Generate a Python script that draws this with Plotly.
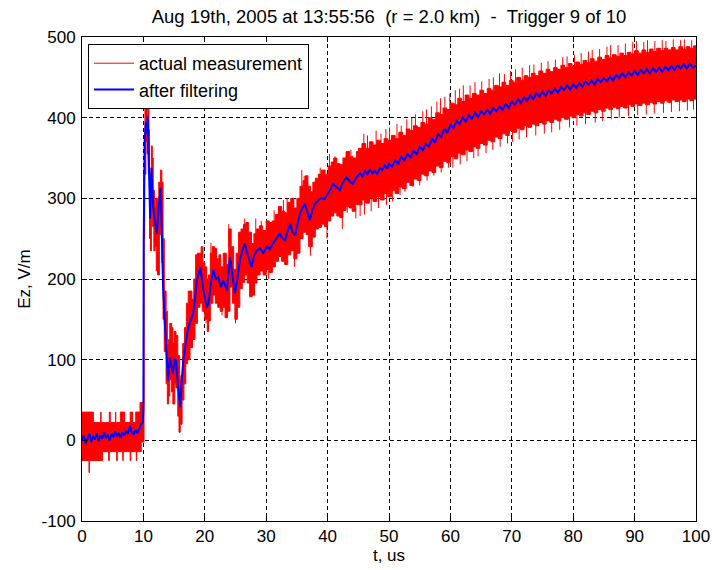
import plotly.graph_objects as go

# ---------------- data ----------------
title_text = "Aug 19th, 2005 at 13:55:56  (r = 2.0 km)  -  Trigger 9 of 10"
x_ticks = [0, 10, 20, 30, 40, 50, 60, 70, 80, 90, 100]
y_ticks = [-100, 0, 100, 200, 300, 400, 500]

# filtered signal (blue)
blue_t = [0, 0.3, 0.6, 0.9, 1.2, 1.5, 1.8, 2.1, 2.4, 2.7, 3.0, 3.3, 3.6, 3.9, 4.2, 4.5, 4.8, 5.1,
          5.4, 5.7, 6.0, 6.3, 6.6, 6.9, 7.2, 7.5, 7.8, 8.1, 8.4, 8.7, 9.0, 9.3, 9.6, 9.9,
          10.0, 10.05, 10.2, 10.4, 10.6, 10.7, 10.9, 11.1, 11.3, 11.5, 11.6, 11.9, 12.2, 12.5,
          12.8, 13.0, 13.2, 13.5, 13.8, 14.0, 14.3, 14.6, 14.8, 15.1, 15.3, 15.6, 16.0, 16.2,
          16.5, 16.8, 17.1, 17.5, 18.1, 18.4, 18.7, 19.0, 19.3, 19.6, 19.9, 20.3, 20.6, 21.0,
          21.4, 21.8, 22.2, 22.6, 23.0, 23.3, 23.6, 24.1, 24.5, 24.9, 25.3, 25.7, 26.1, 26.5,
          27.0, 27.6, 28.0, 28.4, 29.0, 29.5, 30.1, 30.6, 31.1, 31.6, 32.2, 32.7, 33.1, 33.5,
          33.9, 34.3, 34.7, 35.1, 35.5, 35.9, 36.3, 36.7, 37.1, 37.5, 37.9, 38.4, 39.0, 39.5,
          40.1, 40.5, 40.9, 41.5, 42.0, 42.5, 43.1, 43.6, 44.1, 44.7, 45.3, 45.7, 46.1, 46.5,
          46.9, 47.3, 47.7, 48.1, 48.5, 48.9, 49.3, 49.7,
          50.0, 50.5, 51.0, 51.5, 52.0, 52.5, 53.0, 53.5, 54.0, 54.5, 55.0, 55.5, 56.0, 56.5,
          57.0, 57.5, 58.0, 58.5, 59.0, 59.5, 60.0, 60.5, 61.0, 61.5, 62.0, 62.5, 63.0, 63.5,
          64.0, 64.5, 65.0, 65.5, 66.0, 66.5, 67.0, 67.5, 68.0, 68.5, 69.0, 69.5, 70.0, 70.5,
          71.0, 71.5, 72.0, 72.5, 73.0, 73.5, 74.0, 74.5, 75.0, 75.5, 76.0, 76.5, 77.0, 77.5,
          78.0, 78.5, 79.0, 79.5, 80.0, 80.5, 81.0, 81.5, 82.0, 82.5, 83.0, 83.5, 84.0, 84.5,
          85.0, 85.5, 86.0, 86.5, 87.0, 87.5, 88.0, 88.5, 89.0, 89.5, 90.0, 90.5, 91.0, 91.5,
          92.0, 92.5, 93.0, 93.5, 94.0, 94.5, 95.0, 95.5, 96.0, 96.5, 97.0, 97.5, 98.0, 98.5,
          99.0, 99.5, 100.0]
blue_v = [0, 6, -4, 3, 8, -2, 5, 1, 9, -1, 6, 2, 10, 3, 7, 0, 8, 4,
          11, 5, 9, 3, 10, 6, 12, 8, 18, 10, 7, 13, 9, 14, 20, 22,
          40, 250, 370, 395, 380, 402, 350, 275, 338, 300, 289, 270, 256, 290,
          313, 260, 190, 145, 100, 74, 103, 90, 83, 100, 99, 70, 41, 70,
          99, 115, 132, 145, 157, 175, 198, 207, 215, 194, 180, 165, 170, 195,
          211, 200, 202, 190, 198, 192, 186, 227, 205, 182, 200, 223, 235, 244,
          230, 215, 228, 235, 238, 232, 240, 237, 244, 250, 256, 250, 248, 260,
          268, 258, 254, 268, 281, 288, 293, 283, 273, 285, 293, 297, 301, 299,
          306, 312, 318, 313, 310, 320, 326, 321, 318, 326, 331, 327, 334, 330,
          336, 331, 334, 330, 338, 335, 341, 337,
          343, 339, 347, 343, 352, 347, 355, 351, 359, 355, 364, 360, 368, 364,
          374, 369, 380, 376, 386, 381, 391, 387, 396, 392, 400, 395, 403, 399,
          406, 401, 408, 404, 410, 405, 412, 408, 414, 410, 417, 412, 420, 416,
          423, 418, 425, 421, 428, 423, 430, 426, 432, 427, 434, 430, 436, 431,
          438, 434, 440, 435, 441, 437, 443, 438, 445, 441, 446, 441, 448, 444,
          449, 445, 451, 446, 453, 449, 455, 450, 456, 452, 458, 453, 459, 455,
          460, 455, 461, 457, 462, 457, 463, 459, 464, 459, 465, 461, 466, 461,
          467, 462, 465]

# raw measurement (red): upper and lower edge of the dense noisy band (held levels)
red_up_t = [0, 1.8, 1.85, 3.0, 3.05, 3.1, 4.4, 4.45, 4.55, 4.6, 5.4, 5.45, 5.5, 6.2, 6.25,
            6.9, 6.95, 7.8, 7.85, 8.2, 8.25, 8.7, 8.75, 9.4, 9.45, 9.95,
            10.05, 10.25, 10.5, 10.7, 10.9, 11.0, 11.15, 11.3, 11.45, 11.6, 11.8, 12.0, 12.3,
            12.5, 12.8, 13.0, 13.2, 13.4, 13.7, 13.9, 14.1, 14.3, 14.6, 14.8, 15.0, 15.3, 15.6,
            15.9, 16.1, 16.4, 16.7, 17.0, 17.3, 17.6, 17.9, 18.2, 18.5, 18.8, 19.1, 19.4, 19.7,
            20.0, 20.3, 20.6, 20.9, 21.2, 21.6, 21.9, 22.3, 22.6, 23.0, 23.5, 23.9, 24.3, 24.7,
            25.1, 25.5, 25.9, 26.3, 26.7, 27.1, 27.6, 28.0, 28.4, 28.9, 29.4, 30.0, 30.5, 31.0,
            31.5, 32.0, 32.5, 33.0, 33.5, 34.0, 34.5, 35.0, 35.5, 36.0, 36.4, 36.8, 37.2, 37.6,
            38.0, 38.5, 39.0, 39.6, 40.1, 40.6, 41.0, 41.5, 42.0, 42.5, 43.0, 43.6, 44.1, 44.7,
            45.0, 45.6, 46.2, 46.8, 47.4, 48.0, 48.6, 49.2, 49.8, 50.4, 51.0, 51.6, 52.2, 52.8,
            53.4, 54.0, 54.6, 55.2, 55.8, 56.4, 57.0, 57.6, 58.2, 58.8, 59.4, 60.0, 60.6, 61.2,
            61.8, 62.4, 63.0, 63.6, 64.2, 64.8, 65.4, 66.0, 66.6, 67.2, 67.8, 68.4, 69.0, 69.6,
            70.2, 70.8, 71.4, 72.0, 72.6, 73.2, 73.8, 74.4, 75.0, 75.6, 76.2, 76.8, 77.4, 78.0,
            78.6, 79.2, 79.8, 80.4, 81.0, 81.6, 82.2, 82.8, 83.4, 84.0, 84.6, 85.2, 85.8, 86.4,
            87.0, 87.6, 88.2, 88.8, 89.4, 90.0, 90.6, 91.2, 91.8, 92.4, 93.0, 93.6, 94.2, 94.8,
            95.4, 96.0, 96.6, 97.2, 97.8, 98.4, 99.0, 99.6, 100.0]
red_up_v = [35, 35, 22, 22, 35, 22, 22, 35, 35, 22, 22, 35, 22, 22, 35,
            35, 22, 22, 35, 35, 22, 22, 35, 35, 47, 47,
            330, 412, 405, 415, 385, 330, 300, 365, 350, 310, 290, 300, 285,
            320, 335, 320, 250, 185, 160, 120, 125, 145, 140, 120, 135, 130, 105,
            75, 80, 120, 140, 170, 185, 185, 175, 200, 230, 232, 232, 240, 220,
            215, 200, 205, 232, 240, 238, 225, 230, 215, 232, 218, 262, 240, 212,
            232, 258, 262, 268, 270, 258, 244, 256, 262, 266, 260, 272, 270, 272,
            280, 290, 284, 282, 295, 300, 288, 300, 315, 322, 328, 315, 308, 320,
            325, 330, 335, 330, 340, 345, 350, 343, 342, 350, 358, 352, 350, 358,
            362, 368, 362, 370, 366, 372, 368, 374, 372, 378, 374, 382, 378, 386,
            384, 390, 388, 394, 392, 400, 398, 406, 404, 412, 410, 418, 416, 424,
            420, 428, 424, 430, 428, 434, 430, 436, 434, 440, 438, 444, 440, 446,
            444, 450, 446, 452, 450, 455, 452, 458, 455, 460, 457, 462, 460, 465,
            462, 467, 464, 469, 466, 471, 468, 473, 470, 475, 472, 477, 474, 478,
            476, 480, 477, 481, 479, 483, 480, 484, 481, 485, 482, 486, 483, 486,
            484, 487, 484, 488, 485, 488, 486, 489, 489]

red_lo_t = [0, 1.1, 1.15, 1.2, 3.3, 3.35, 4.3, 4.35, 4.45, 5.6, 5.65, 5.75, 6.6, 6.65, 6.7,
            7.8, 7.85, 7.95, 8.8, 8.85, 8.9, 9.6, 9.65, 10.0,
            10.1, 10.2, 10.4, 10.6, 10.8, 11.0, 11.15, 11.3, 11.5, 11.7, 11.9, 12.1, 12.3, 12.6,
            12.8, 13.0, 13.2, 13.4, 13.7, 13.9, 14.1, 14.3, 14.6, 14.8, 15.1, 15.3, 15.6, 15.8,
            16.0, 16.3, 16.6, 16.9, 17.2, 17.6, 18.0, 18.4, 18.8, 19.2, 19.6, 20.0, 20.4, 20.6,
            20.9, 21.3, 21.7, 22.1, 22.5, 22.9, 23.3, 23.7, 24.1, 24.5, 24.9, 25.3, 25.7, 26.1,
            26.5, 26.9, 27.3, 27.7, 28.1, 28.5, 29.0, 29.5, 30.0, 30.5, 31.0, 31.5, 32.0, 32.5,
            33.0, 33.5, 34.0, 34.5, 35.0, 35.5, 36.0, 36.5, 37.0, 37.5, 38.0, 38.5, 39.0, 39.5,
            40.0, 40.5, 41.0, 41.5, 42.0, 42.5, 43.0, 43.5, 44.0, 44.5,
            45.0, 45.6, 46.2, 46.8, 47.4, 48.0, 48.6, 49.2, 49.8, 50.4, 51.0, 51.6, 52.2, 52.8,
            53.4, 54.0, 54.6, 55.2, 55.8, 56.4, 57.0, 57.6, 58.2, 58.8, 59.4, 60.0, 60.6, 61.2,
            61.8, 62.4, 63.0, 63.6, 64.2, 64.8, 65.4, 66.0, 66.6, 67.2, 67.8, 68.4, 69.0, 69.6,
            70.2, 70.8, 71.4, 72.0, 72.6, 73.2, 73.8, 74.4, 75.0, 75.6, 76.2, 76.8, 77.4, 78.0,
            78.6, 79.2, 79.8, 80.4, 81.0, 81.6, 82.2, 82.8, 83.4, 84.0, 84.6, 85.2, 85.8, 86.4,
            87.0, 87.6, 88.2, 88.8, 89.4, 90.0, 90.6, 91.2, 91.8, 92.4, 93.0, 93.6, 94.2, 94.8,
            95.4, 96.0, 96.6, 97.2, 97.8, 98.4, 99.0, 99.6, 100.0]
red_lo_v = [-25, -25, -40, -25, -25, -14, -14, -25, -14, -14, -25, -14, -14, -25, -14,
            -14, -25, -14, -14, -25, -14, -14, -2, -2,
            250, 330, 370, 355, 330, 250, 235, 300, 265, 235, 240, 210, 205, 255,
            285, 220, 150, 110, 70, 45, 55, 75, 60, 45, 70, 65, 30, 10,
            20, 50, 70, 95, 100, 115, 125, 145, 165, 170, 160, 150, 135, 148,
            170, 180, 170, 165, 160, 165, 152, 160, 190, 170, 150, 165, 188, 196,
            205, 195, 178, 180, 195, 205, 210, 205, 212, 208, 215, 222, 228, 222,
            218, 230, 235, 225, 232, 250, 258, 255, 240, 252, 262, 264, 268, 265,
            272, 278, 282, 278, 276, 285, 290, 288, 284, 292,
            292, 298, 294, 300, 296, 302, 298, 306, 302, 310, 306, 314, 312, 320,
            316, 324, 322, 330, 328, 334, 332, 340, 338, 346, 344, 352, 349, 356,
            354, 360, 358, 364, 362, 368, 366, 372, 370, 376, 374, 380, 378, 384,
            382, 387, 385, 390, 388, 392, 390, 394, 392, 396, 394, 398, 396, 400,
            398, 402, 400, 404, 402, 406, 404, 408, 406, 410, 408, 412, 410, 413,
            411, 414, 412, 416, 414, 417, 415, 418, 416, 419, 417, 420, 418, 421,
            419, 422, 420, 422, 420, 423, 421, 423, 423]

# isolated noise spikes of the raw measurement (time, min, max)
spike_t = [20.2, 21.0, 22.8, 23.9, 25.0, 26.5, 27.6, 28.3, 29.2, 30.4, 31.3, 32.8, 33.4,
           34.6, 35.8, 36.2, 36.9, 37.2, 38.8, 39.9, 40.3, 41.2, 42.4, 43.2, 43.8, 44.6,
           45.9, 46.5, 47.9, 48.7, 49.5, 50.1, 51.3, 52.0, 52.9, 53.7, 54.3, 55.5, 56.1, 56.9,
           57.8, 58.4, 59.1, 59.9, 60.8, 61.5, 62.1, 63.2, 64.0, 65.1, 66.3, 67.0, 68.0, 68.8,
           69.8, 70.6, 71.7, 72.9, 73.6, 74.8, 75.9, 77.1, 78.3, 79.0, 80.2, 81.3, 82.5, 83.1,
           84.3, 85.5, 86.1, 87.3, 88.5, 89.7, 90.3, 91.5, 92.1, 93.3, 94.5, 95.1, 96.3, 97.5,
           98.1, 99.3,
           45.3, 46.0, 47.1, 48.3, 49.6, 50.6, 51.8, 52.6, 53.9, 55.0, 56.2, 57.3, 58.5, 59.7,
           60.4, 61.6, 62.7, 63.8, 64.5, 65.8, 66.9, 68.1, 69.3, 70.1, 71.2, 72.4, 73.9, 75.3,
           76.5, 77.8, 79.4, 80.6, 82.0, 83.6, 84.8, 86.2, 87.5, 89.0, 90.5, 91.9, 93.2, 94.7,
           96.0, 97.3, 98.6, 99.6]
spike_lo = [145, 200, 155, 240, 145, 255, 194, 250, 250, 200, 260, 270, 275,
            215, 310, 305, 240, 229, 315, 250, 335, 335, 262, 282, 340, 275,
            350, 350, 355, 355, 360, 360, 365, 365, 370, 375, 380, 385, 390, 390,
            395, 395, 400, 405, 410, 410, 415, 415, 420, 420, 425, 425, 430, 430,
            435, 435, 440, 440, 445, 445, 450, 450, 455, 455, 460, 460, 465, 465,
            465, 470, 470, 470, 470, 475, 475, 475, 475, 475, 475, 475, 475, 475,
            475, 475,
            278, 280, 284, 288, 292, 296, 304, 308, 314, 316, 322, 328, 332, 338,
            338, 342, 346, 350, 352, 356, 360, 364, 368, 370, 373, 376, 378, 380,
            382, 385, 388, 390, 392, 394, 396, 398, 400, 402, 403, 404, 405, 406,
            407, 408, 409, 410]
spike_hi = [170, 245, 175, 268, 175, 275, 210, 275, 272, 220, 285, 298, 300,
            235, 335, 328, 258, 250, 338, 270, 355, 352, 282, 300, 360, 290,
            380, 378, 384, 380, 386, 388, 392, 390, 398, 400, 404, 408, 410, 414,
            420, 424, 426, 430, 434, 436, 440, 440, 444, 445, 448, 450, 455, 454,
            458, 460, 462, 465, 466, 468, 470, 472, 475, 476, 478, 480, 482, 484,
            485, 488, 490, 490, 492, 494, 495, 494, 496, 495, 496, 495, 497, 496,
            497, 496,
            300, 300, 305, 308, 312, 318, 322, 326, 332, 338, 344, 348, 352, 360,
            362, 366, 370, 374, 376, 380, 384, 388, 392, 394, 398, 400, 402, 404,
            406, 408, 412, 414, 416, 418, 420, 422, 424, 426, 428, 428, 430, 430,
            432, 432, 432, 432]

# ---------------- figure ----------------
fig = go.Figure()

# legend entry for the raw measurement
fig.add_trace(go.Scatter(x=[None], y=[None], mode="lines", name="actual measurement",
                         line=dict(color="#ff0000", width=1)))
# dense red band of the raw measurement: lower edge, then upper edge filled down to it
fig.add_trace(go.Scatter(x=red_lo_t, y=red_lo_v, mode="lines",
                         line=dict(color="#ff0000", width=1, shape="hv"),
                         showlegend=False, hoverinfo="skip"))
fig.add_trace(go.Scatter(x=red_up_t, y=red_up_v, mode="lines", fill="tonexty",
                         fillcolor="#ff0000",
                         line=dict(color="#ff0000", width=1, shape="hv"),
                         showlegend=False, hoverinfo="skip"))
# isolated spikes as vertical segments
sx, sy = [], []
for t, lo, hi in zip(spike_t, spike_lo, spike_hi):
    sx += [t, t, None]
    sy += [lo, hi, None]
fig.add_trace(go.Scatter(x=sx, y=sy, mode="lines", line=dict(color="#ff0000", width=1),
                         showlegend=False, hoverinfo="skip"))
fig.add_trace(go.Scatter(x=blue_t, y=blue_v, mode="lines", name="after filtering",
                         line=dict(color="#0000ff", width=2)))

axis_common = dict(
    showline=True, linecolor="black", linewidth=1, mirror="ticks",
    ticks="inside", ticklen=5, tickcolor="black", tickwidth=1,
    showgrid=True, gridcolor="black", gridwidth=1, griddash="4px,3px",
    zeroline=False, tickfont=dict(size=17, color="black"),
    automargin=False,
)

fig.update_xaxes(range=[0, 100], tickvals=x_ticks, ticktext=[str(v) for v in x_ticks],
                 ticklabelstandoff=0,
                 title=dict(text="t, us", standoff=2, font=dict(size=17)), **axis_common)
fig.update_yaxes(range=[-100, 500], tickvals=y_ticks, ticktext=[str(v) for v in y_ticks],
                 ticklabelstandoff=2,
                 title=dict(text="Ez, V/m", standoff=6, font=dict(size=17)), **axis_common)

fig.update_layout(
    width=712, height=570,
    margin=dict(l=82, r=16, t=37, b=49),
    paper_bgcolor="white", plot_bgcolor="white",
    font=dict(family="Liberation Sans, Arial, sans-serif", size=17, color="black"),
    title=dict(text=title_text, x=0.5, xref="paper", xanchor="center",
               y=1 - 17 / 570, yref="container", yanchor="middle",
               font=dict(size=18.5)),
    legend=dict(x=0.0098, y=0.9855, xanchor="left", yanchor="top",
                bgcolor="white", bordercolor="black", borderwidth=1,
                font=dict(size=18), itemwidth=40, tracegroupgap=0,
                traceorder="normal"),
    showlegend=True,
)

fig.write_html("out.html")
